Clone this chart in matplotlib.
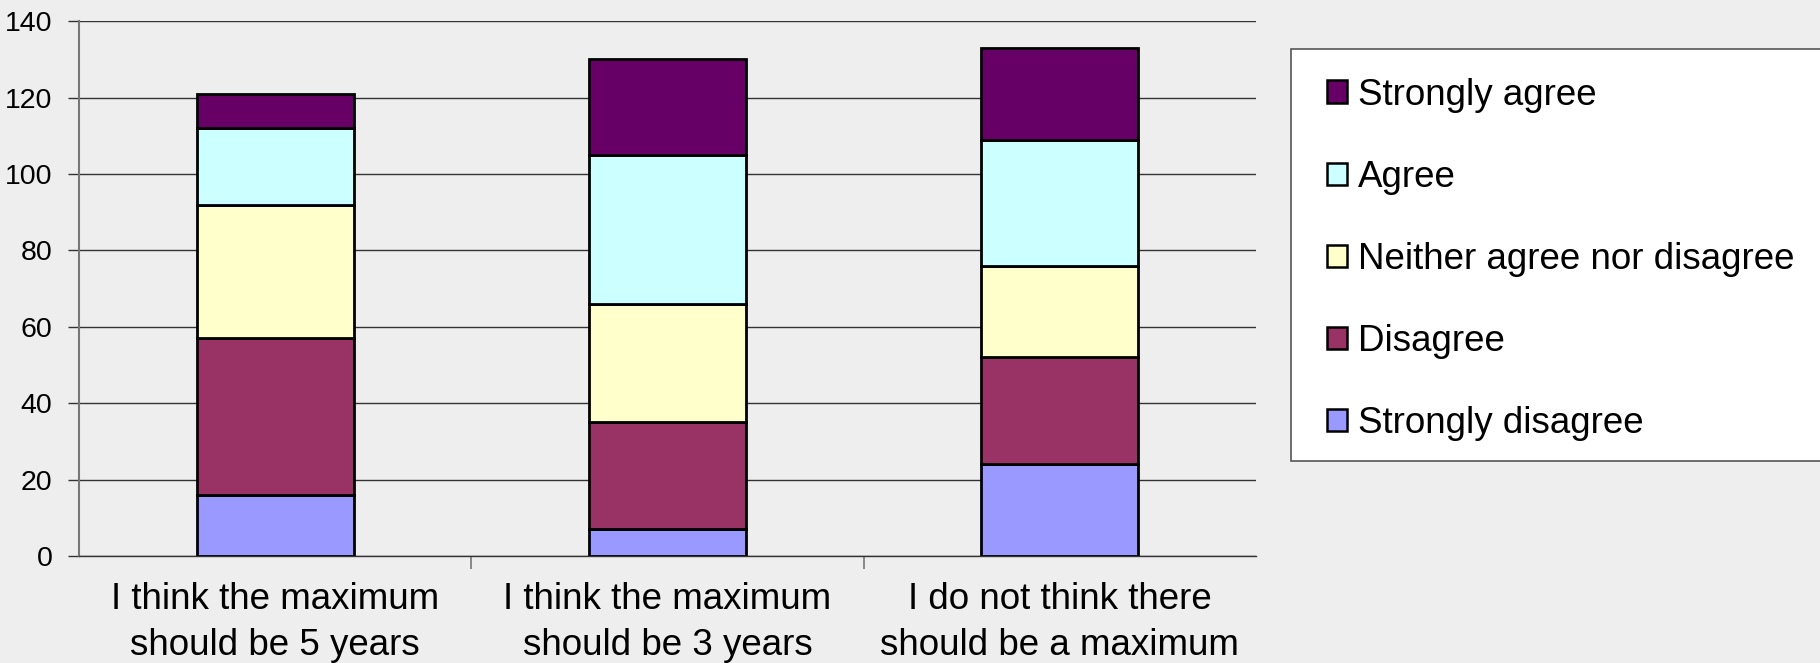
import matplotlib
matplotlib.use("Agg")
import matplotlib.pyplot as plt
from matplotlib.patches import Rectangle
import numpy as np

categories = ["I think the maximum\nshould be 5 years",
              "I think the maximum\nshould be 3 years",
              "I do not think there\nshould be a maximum"]
series_names = ["Strongly disagree", "Disagree", "Neither agree nor disagree",
                "Agree", "Strongly agree"]
strongly_disagree = [16, 7, 24]
disagree = [41, 28, 28]
neither = [35, 31, 24]
agree = [20, 39, 33]
strongly_agree = [9, 25, 24]
colors = ["#9999FF", "#993366", "#FFFFCC", "#CCFFFF", "#660066"]
yticks = [0, 20, 40, 60, 80, 100, 120, 140]

plt.rcParams['font.family'] = ['Liberation Sans', 'DejaVu Sans']
bg = "#EEEEEE"
fig = plt.figure(figsize=(18.2, 6.63), dpi=100, facecolor=bg)
ax = fig.add_axes([0.0434, 0.1614, 0.6466, 0.8066], facecolor=bg)

data = [strongly_disagree, disagree, neither, agree, strongly_agree]
x = np.arange(len(categories))
bottom = np.zeros(len(categories))
handles = []
for name, vals, c in zip(series_names, data, colors):
    b = ax.bar(x, vals, 0.4, bottom=bottom, color=c, edgecolor="black",
               linewidth=2, label=name, zorder=3)
    handles.append(b)
    bottom += np.array(vals)

ax.set_xlim(-0.5, 2.5)
ax.set_ylim(0, 140)
ax.set_yticks(yticks)
ax.set_yticklabels([str(v) for v in yticks], fontsize=20.5)
ax.yaxis.grid(True, color="#333333", linewidth=1.0, zorder=0)
ax.set_axisbelow(True)
ax.tick_params(axis='y', length=8, color="#333333", width=1, pad=11)

ax.set_xticks(x)
ax.set_xticklabels(categories, fontsize=26.5, linespacing=1.38)
ax.tick_params(axis='x', which='major', length=0, pad=19)
ax.set_xticks([0.5, 1.5], minor=True)
ax.tick_params(axis='x', which='minor', length=9, color="#777777", width=1.2)

for s in ["top", "right"]:
    ax.spines[s].set_visible(False)
ax.spines["left"].set_color("#777777")
ax.spines["left"].set_linewidth(1.5)
ax.spines["bottom"].set_color("#333333")
ax.spines["bottom"].set_linewidth(1.0)

# legend box
fig.patches.append(Rectangle((0.7093, 0.305), 0.35, 0.621,
                             transform=fig.transFigure, facecolor="white",
                             edgecolor="#555555", linewidth=1.2, zorder=1))

leg = fig.legend(handles[::-1], series_names[::-1], loc="upper left",
                 bbox_to_anchor=(0.729, 0.883),
                 fontsize=26.5, frameon=False,
                 handlelength=0.55, handleheight=0.55,
                 handletextpad=0.3, labelspacing=1.28, borderpad=0.0,
                 borderaxespad=0.0)
leg.set_zorder(2)
for h in leg.legend_handles:
    h.set_linewidth(1.8)

fig.savefig("out.png", dpi=100, facecolor=bg)
